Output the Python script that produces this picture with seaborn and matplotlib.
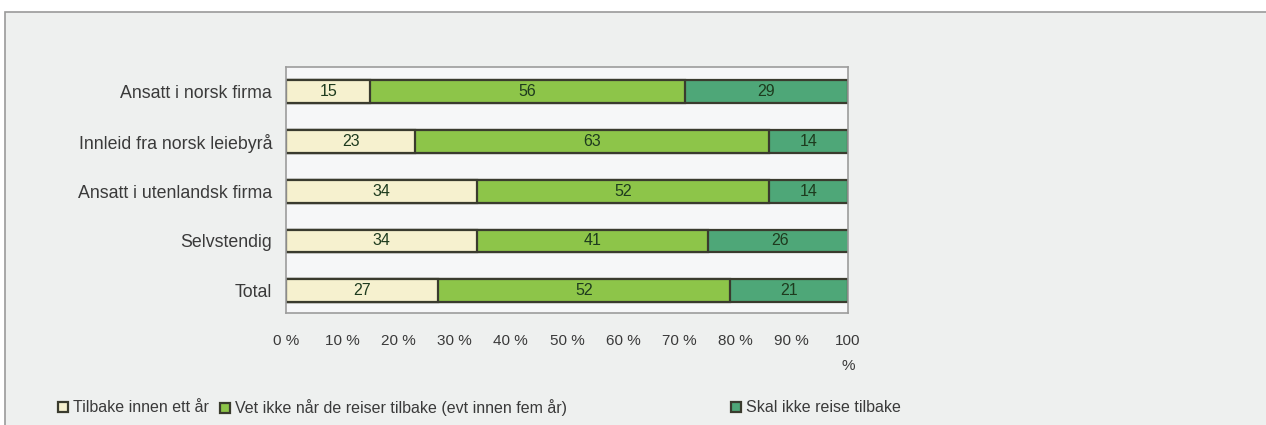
import matplotlib
matplotlib.use("Agg")
import matplotlib.pyplot as plt
from matplotlib.patches import Rectangle
import numpy as np
import pandas as pd
import seaborn as sns

categories = [
    "Ansatt i norsk firma",
    "Innleid fra norsk leiebyrå",
    "Ansatt i utenlandsk firma",
    "Selvstendig",
    "Total",
]
series_names = [
    "Tilbake innen ett år",
    "Vet ikke når de reiser tilbake (evt innen fem år)",
    "Skal ikke reise tilbake",
]
tilbake_ett_aar = [15, 23, 34, 34, 27]
vet_ikke = [56, 63, 52, 41, 52]
skal_ikke = [29, 14, 14, 26, 21]
tick_labels = ["0 %", "10 %", "20 %", "30 %", "40 %", "50 %", "60 %",
               "70 %", "80 %", "90 %", "100\n%"]

colors = ["#f6f1cf", "#8dc549", "#4ea778"]
edge = "#3a3b2e"
text_col = "#3a3a3a"

sns.set_theme(style="white")
plt.rcParams["font.family"] = ["Liberation Sans", "DejaVu Sans"]

df = pd.DataFrame({
    "kategori": categories,
    "s1": tilbake_ett_aar,
    "s2": vet_ikke,
    "s3": skal_ikke,
})
df["c1"] = df["s1"]
df["c2"] = df["s1"] + df["s2"]
df["c3"] = df["s1"] + df["s2"] + df["s3"]

fig = plt.figure(figsize=(12.66, 4.25), dpi=100)
fig.patch.set_facecolor("white")
# grey panel behind the chart
fig.patches.append(Rectangle((5 / 1266, -0.05), 1.1, 1 - 12 / 425 + 0.05,
                             transform=fig.transFigure, facecolor="#eef0ef",
                             edgecolor="#9a9a9a", linewidth=1.2, zorder=-10))

ax = fig.add_axes([286 / 1266, 1 - 313 / 425, 562 / 1266, 246 / 425])
ax.set_zorder(5)
ax.set_facecolor("#f6f7f8")

# stacked bars: draw cumulative totals from the back to the front
for col, name, color in zip(["c3", "c2", "c1"], series_names[::-1], colors[::-1]):
    sns.barplot(data=df, x=col, y="kategori", orient="h", color=color,
                edgecolor=edge, linewidth=1.6, width=0.46, ax=ax,
                saturation=1, label=name)

# segment value labels
for i in range(len(categories)):
    starts = [0, df["c1"][i], df["c2"][i]]
    vals = [df["s1"][i], df["s2"][i], df["s3"][i]]
    for s, v in zip(starts, vals):
        ax.text(s + v / 2, i, f"{v}", ha="center", va="center",
                fontsize=11.5, color="#1e3b1e")

ax.set_xlim(0, 100)
ax.set_ylim(len(categories) - 1 + 0.45, -0.5)
ax.set_xticks(np.arange(0, 101, 10))
ax.set_xticklabels(tick_labels)
ax.set_xlabel("")
ax.set_ylabel("")
ax.tick_params(axis="x", length=0, pad=15, labelsize=11, labelcolor=text_col)
ax.tick_params(axis="y", length=0, pad=10, labelsize=12.8, labelcolor=text_col)
ax.get_xticklabels()[-1].set_linespacing(2.0)
for sp in ax.spines.values():
    sp.set_visible(True)
    sp.set_color("#9c9c9c")
    sp.set_linewidth(1.2)
leg = ax.get_legend()
if leg is not None:
    leg.remove()

# legend entries placed individually along the bottom
h, l = ax.get_legend_handles_labels()
lookup = dict(zip(l, h))
legend_x = [58 / 1266, 220 / 1266, 731 / 1266]
for name, x in zip(series_names, legend_x):
    lg = fig.legend([lookup[name]], [name], loc="center left",
                    bbox_to_anchor=(x, 1 - 408 / 425), frameon=False,
                    fontsize=11.5, handlelength=0.6, handleheight=0.6,
                    handletextpad=0.35, borderpad=0, borderaxespad=0)
    lg.set_zorder(6)
    for t in lg.get_texts():
        t.set_color(text_col)

fig.savefig("out.png", dpi=100, facecolor="white")
